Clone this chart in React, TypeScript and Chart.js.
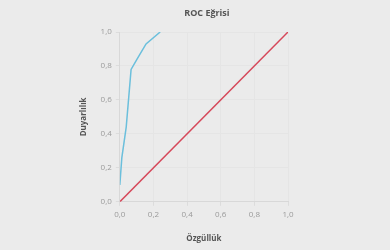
import React, { useEffect, useRef } from "react";
import { Chart, registerables } from "chart.js";

Chart.register(...registerables);

const rocX = [0, 0.012, 0.038, 0.067, 0.105, 0.156, 0.24];
const rocY = [0.1, 0.26, 0.44, 0.78, 0.845, 0.93, 1.0];
const diagX = [0, 1];
const diagY = [0, 1];
const tickValues = [0, 0.2, 0.4, 0.6, 0.8, 1.0];

const chartTitle = "ROC Eğrisi";
const xTitle = "Özgüllük";
const yTitle = "Duyarlılık";

const centeredTitle = {
  id: "centeredTitle",
  afterDraw(chart: any) {
    const { ctx, chartArea } = chart;
    ctx.save();
    ctx.font = "bold 9px 'Open Sans'";
    ctx.fillStyle = "#555";
    ctx.textAlign = "center";
    ctx.textBaseline = "middle";
    ctx.fillText(chartTitle, (chartArea.left + chartArea.right) / 2 + 3, 13);
    ctx.restore();
  },
};

export default function App() {
  const ref = useRef<HTMLCanvasElement>(null);
  useEffect(() => {
    document.body.style.margin = "0";
    document.body.style.background = "#ebebeb";
    const fmt = (v: any) => Number(v).toFixed(1).replace(".", ",");
    const axisCommon = () => ({
      type: "linear" as const,
      min: 0,
      max: 1,
      afterBuildTicks: (axis: any) => {
        axis.ticks = tickValues.map((v) => ({ value: v }));
      },
      ticks: {
        callback: fmt,
        color: "#9a9a9a",
        font: { family: "Open Sans", size: 8 },
        padding: 4,
      },
      grid: { color: "#e5e5e5", tickLength: 4, tickColor: "#dcdcdc" },
      border: { color: "#d8d8d8" },
    });
    const chart = new Chart(ref.current!, {
      type: "line",
      data: {
        datasets: [
          {
            data: rocX.map((x, i) => ({ x, y: rocY[i] })),
            borderColor: "#6bbfdc",
            borderWidth: 1.5,
            pointRadius: 0,
            tension: 0,
          },
          {
            data: diagX.map((x, i) => ({ x, y: diagY[i] })),
            borderColor: "#d6485a",
            borderWidth: 1.5,
            pointRadius: 0,
          },
        ],
      },
      plugins: [centeredTitle],
      options: {
        animation: false,
        responsive: false,
        layout: { padding: { left: 79, right: 102, top: 32, bottom: 6 } },
        plugins: {
          legend: { display: false },
          tooltip: { enabled: false },
          title: { display: false },
        },
        scales: {
          x: {
            ...axisCommon(),
            title: {
              display: true,
              text: xTitle,
              color: "#555",
              font: { family: "Open Sans", size: 8, weight: "bold" },
              padding: { top: 11, bottom: 0 },
            },
          },
          y: {
            ...axisCommon(),
            title: {
              display: true,
              text: yTitle,
              color: "#555",
              font: { family: "Open Sans", size: 8, weight: "bold" },
              padding: { top: 0, bottom: 8 },
            },
          },
        },
      },
    });
    return () => chart.destroy();
  }, []);
  return (
    <div style={{ width: 390, height: 250, background: "#ebebeb" }}>
      <canvas ref={ref} width={390} height={250} />
    </div>
  );
}
